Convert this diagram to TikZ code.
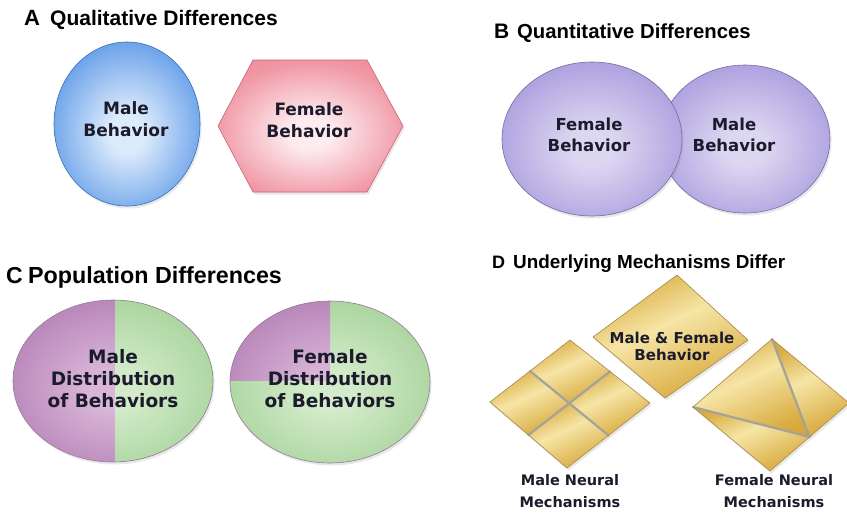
\documentclass[tikz,border=0pt]{standalone}
\usepackage{fontspec}
\usetikzlibrary{calc,shadows}
\newfontfamily\headfont{Liberation Sans}
\newfontfamily\blobfont{DejaVu Sans}
\definecolor{ink}{HTML}{1B1B2C}
\definecolor{maleblue}{HTML}{4488E4}
\definecolor{maleblueL}{HTML}{DCEBFB}
\definecolor{femrose}{HTML}{EB7486}
\definecolor{femroseL}{HTML}{FDEBEE}
\definecolor{lavender}{HTML}{9D8FD9}
\definecolor{lavenderL}{HTML}{DDD6F1}
\definecolor{plum}{HTML}{AE76B1}
\definecolor{plumL}{HTML}{D9B6D7}
\definecolor{sage}{HTML}{9DCE90}
\definecolor{sageL}{HTML}{D3EBCA}
\definecolor{goldD}{HTML}{C18E24}
\definecolor{gold}{HTML}{DAAE44}
\definecolor{goldL}{HTML}{F6E5A6}
\definecolor{seamgray}{HTML}{A3A39B}
% radial glows: pale middle, saturated rim
\newcommand\declareglow[3]{%
  \colorlet{#1mid}{#3!70!#2}%
  \pgfdeclareradialshading{#1}{\pgfpoint{0bp}{-3bp}}%
    {color(0bp)=(#2); color(6bp)=(#2); color(26bp)=(#1mid); color(45bp)=(#3);
     color(75bp)=(#3)}}
\declareglow{blueglow}{maleblueL}{maleblue}
\declareglow{roseglow}{femroseL}{femrose}
\declareglow{lavglow}{lavenderL}{lavender}
\declareglow{plumglow}{plumL}{plum}
\declareglow{sageglow}{sageL}{sage}
\pgfdeclareverticalshading{goldsheen}{100bp}{color(0bp)=(goldD); color(28bp)=(gold);
  color(55bp)=(goldL); color(75bp)=(gold); color(100bp)=(goldD)}
\tikzset{
  paneltag/.style={anchor=base west,inner sep=0pt,
                   font=\headfont\bfseries\fontsize{#1}{#1}\selectfont},
  paneltitle/.style={anchor=base west,inner sep=0pt,
                     font=\headfont\bfseries\fontsize{#1}{#1}\selectfont},
  blobtext/.style 2 args={align=center,inner sep=0pt,text=ink,
                          font=\blobfont\bfseries\fontsize{#1}{#2}\selectfont},
  softshadow/.style={drop shadow={opacity=0.18,shadow xshift=1.5pt,shadow yshift=-2.5pt}},
  blob/.style={softshadow,shading=#1},
  rim/.style={draw=#1,line width=0.6pt},
  goldpiece/.style={shading=goldsheen,shading angle=25},
  goldrim/.style={draw=goldD!60!gray,line width=0.6pt,line join=round},
  seam/.style={draw=seamgray,line width=2.2pt,line cap=round}
}
\begin{document}
\begin{tikzpicture}[x=1pt,y=-1pt]
  \path[use as bounding box,fill=white] (0,0) rectangle (847,514);

  % --- A: qualitative differences
  \node[paneltag=22] (tagA) at (24,25) {A};
  \node[paneltitle=21] (titleA) at (50,25) {Qualitative Differences};
  \shade[blob=blueglow] (127,124) ellipse [x radius=73,y radius=82];
  \draw[rim=maleblue!80!black] (127,124) ellipse [x radius=73,y radius=82];
  \shade[blob=roseglow] (218,126) -- (253,60) -- (367,60) -- (403,126)
    -- (367,192) -- (253,192) -- cycle;
  \draw[rim=femrose!85!black,line join=round] (218,126) -- (253,60) -- (367,60)
    -- (403,126) -- (367,192) -- (253,192) -- cycle;
  \node[blobtext={17}{22}] (maleA) at (126,119) {Male\\Behavior};
  \node[blobtext={17}{22}] (femaleA) at (309,120) {Female\\Behavior};

  % --- B: quantitative differences
  \node[paneltag=21] (tagB) at (494,38) {B};
  \node[paneltitle=20.3] (titleB) at (517,38) {Quantitative Differences};
  \shade[blob=lavglow] (745,139) ellipse [x radius=85,y radius=74];
  \draw[rim=lavender!75!black] (745,139) ellipse [x radius=85,y radius=74];
  \shade[blob=lavglow] (592,139) ellipse [x radius=90,y radius=77];
  \draw[rim=lavender!75!black] (592,139) ellipse [x radius=90,y radius=77];
  \node[blobtext={16.5}{21}] (femaleB) at (589,135) {Female\\Behavior};
  \node[blobtext={16.5}{21}] (maleB) at (734,135) {Male\\Behavior};

  % --- C: population differences
  \node[paneltag=23] (tagC) at (6,283) {C};
  \node[paneltitle=23.3] (titleC) at (28,283) {Population Differences};
  \shade[blob=plumglow] (113,381) ellipse [x radius=100,y radius=81];
  \begin{scope}
    \clip (115,290) rectangle (225,475);
    \shade[shading=sageglow] (113,381) ellipse [x radius=100,y radius=81];
  \end{scope}
  \draw[rim=plum!50!gray] (113,381) ellipse [x radius=100,y radius=81];
  \shade[blob=sageglow] (330,382) ellipse [x radius=100,y radius=81];
  \begin{scope}
    \clip (220,290) rectangle (330,380);
    \shade[shading=plumglow] (330,382) ellipse [x radius=100,y radius=81];
  \end{scope}
  \draw[rim=plum!50!gray] (330,382) ellipse [x radius=100,y radius=81];
  \node[blobtext={18.5}{22}] (maleC) at (113,379) {Male\\Distribution\\of Behaviors};
  \node[blobtext={18.5}{22}] (femaleC) at (330,379) {Female\\Distribution\\of Behaviors};

  % --- D: underlying mechanisms
  \node[paneltag=18] (tagD) at (492,268) {D};
  \node[paneltitle=18.9] (titleD) at (513,268) {Underlying Mechanisms Differ};

  % shared behaviour tile
  \coordinate (bT) at (677,275); \coordinate (bR) at (748,340);
  \coordinate (bB) at (665,398); \coordinate (bL) at (593,337);
  \shade[blob=goldsheen,goldpiece] (bT) -- (bR) -- (bB) -- (bL) -- cycle;
  \draw[goldrim] (bT) -- (bR) -- (bB) -- (bL) -- cycle;
  \node[blobtext={15}{17}] (bothD) at (672,346) {Male \& Female\\Behavior};

  % male tile, four equal pieces
  \coordinate (mT) at (570,340); \coordinate (mR) at (650,403);
  \coordinate (mB) at (567,468); \coordinate (mL) at (490,402);
  \coordinate (mC) at ($(mT)!.5!(mB)$);
  \coordinate (mTR) at ($(mT)!.5!(mR)$); \coordinate (mTL) at ($(mT)!.5!(mL)$);
  \coordinate (mBR) at ($(mB)!.5!(mR)$); \coordinate (mBL) at ($(mB)!.5!(mL)$);
  \fill[softshadow,white] (mT) -- (mR) -- (mB) -- (mL) -- cycle;
  \shade[goldpiece] (mT) -- (mTR) -- (mC) -- (mTL) -- cycle;
  \shade[goldpiece] (mTL) -- (mC) -- (mBL) -- (mL) -- cycle;
  \shade[goldpiece] (mTR) -- (mR) -- (mBR) -- (mC) -- cycle;
  \shade[goldpiece] (mC) -- (mBR) -- (mB) -- (mBL) -- cycle;
  \draw[seam] (mTL) -- (mBR);
  \draw[seam] (mTR) -- (mBL);
  \draw[goldrim] (mT) -- (mR) -- (mB) -- (mL) -- cycle;
  \node[blobtext={14.5}{22}] (maleD) at (570,491) {Male Neural\\Mechanisms};

  % female tile, three triangles
  \coordinate (fT) at (772,339); \coordinate (fR) at (849,403);
  \coordinate (fB) at (770,471); \coordinate (fL) at (693,407);
  \coordinate (fP) at ($(fR)!.5!(fB)$);
  \fill[softshadow,white] (fT) -- (fR) -- (fB) -- (fL) -- cycle;
  \shade[goldpiece] (fT) -- (fP) -- (fL) -- cycle;
  \shade[goldpiece] (fT) -- (fR) -- (fP) -- cycle;
  \shade[goldpiece] (fL) -- (fP) -- (fB) -- cycle;
  \draw[seam] (fL) -- (fP);
  \draw[seam] (fT) -- (fP);
  \draw[goldrim] (fT) -- (fR) -- (fB) -- (fL) -- cycle;
  \node[blobtext={14.5}{22}] (femaleD) at (774,491) {Female Neural\\Mechanisms};
\end{tikzpicture}
\end{document}
